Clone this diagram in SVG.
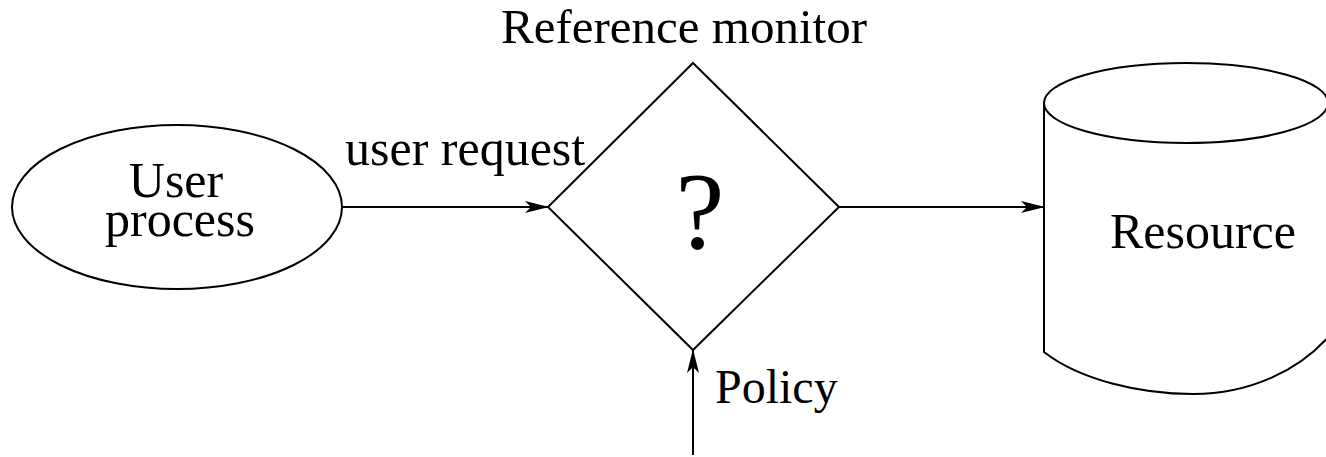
<svg xmlns="http://www.w3.org/2000/svg" width="1326" height="457" viewBox="0 0 1326 457">
<style>
.s{fill:#fff;stroke:#000;stroke-width:2}
.l{fill:none;stroke:#000;stroke-width:2}
text{font-family:"Liberation Serif","Times New Roman",Times,serif;font-size:50px;fill:#000}
</style>
<defs>
<marker id="ah" viewBox="0 0 24 14" refX="23" refY="7" markerWidth="24" markerHeight="14" markerUnits="userSpaceOnUse" orient="auto">
<path d="M0,1 L24,7 L0,13 L6,7 Z" fill="#000"/>
</marker>
</defs>
<rect width="1326" height="457" fill="#fff"/>
<g id="connectors">
<line class="l" x1="343" y1="207" x2="548" y2="207" marker-end="url(#ah)"/>
<line class="l" x1="839" y1="207" x2="1044" y2="207" marker-end="url(#ah)"/>
<line class="l" x1="693" y1="455" x2="693" y2="350" marker-end="url(#ah)"/>
<text x="345" y="165">user request</text>
<text x="715" y="403" style="font-size:48px">Policy</text>
</g>
<g id="user-process">
<ellipse class="s" cx="177" cy="207" rx="165" ry="82"/>
<text x="176" y="197" text-anchor="middle">User</text>
<text x="180" y="236" text-anchor="middle">process</text>
</g>
<g id="reference-monitor">
<polygon class="s" points="693,63 839,207 693,350 548,207"/>
<text x="684" y="43" text-anchor="middle" style="font-size:49px">Reference monitor</text>
<text x="700" y="248" text-anchor="middle" style="font-size:110px">?</text>
</g>
<g id="resource">
<path class="s" d="M1044,103 L1044,352 C1080,380 1140,394 1193,394 C1250,394 1300,370 1330,335 L1330,103 Z"/>
<ellipse class="s" cx="1186" cy="103" rx="142" ry="40"/>
<text x="1203" y="248" text-anchor="middle">Resource</text>
</g>
</svg>
